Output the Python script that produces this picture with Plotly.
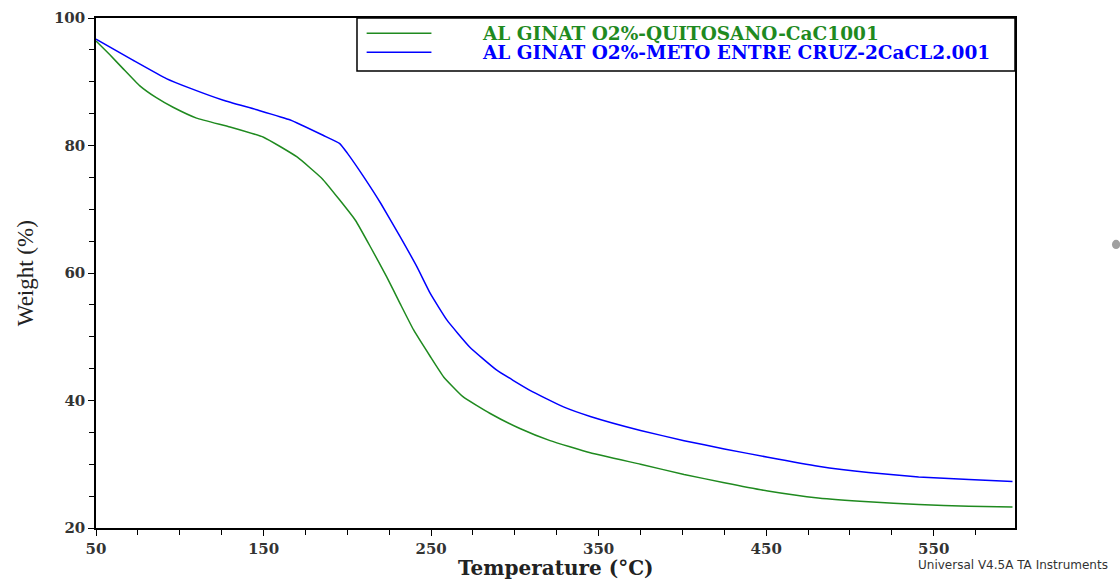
import plotly.graph_objects as go

# TGA curves: temperature (°C) vs residual weight (%)
temp_quitosano = [50, 58, 66, 76, 86, 96, 110, 130, 150, 170, 185, 195, 205, 214, 223.5, 231.5, 239.5,
                  249.5, 257.5, 269, 285, 303, 321, 345, 375, 401, 425, 451, 481, 511, 541, 571, 597]
weight_quitosano = [96.4, 94.3, 92.1, 89.4, 87.5, 86.0, 84.3, 82.9, 81.3, 78.2, 74.8, 71.6, 68.2, 64.0, 59.4,
                    55.2, 51.1, 46.9, 43.7, 40.6, 38.0, 35.6, 33.7, 31.8, 30.0, 28.4, 27.1, 25.8, 24.7,
                    24.1, 23.7, 23.4, 23.3]

temp_entrecruz = [50, 72, 92, 106, 126, 146, 166, 185.5, 195.5, 200, 210, 220, 231.5, 241.5,
                  249.5, 259.5, 273, 289, 309, 329, 345, 375, 401, 425, 451, 481, 511, 541, 571, 597]
weight_entrecruz = [96.7, 93.4, 90.5, 89.0, 87.1, 85.6, 84.0, 81.6, 80.3, 78.8, 75.0, 70.9, 65.7, 61.0,
                    56.8, 52.6, 48.4, 44.8, 41.6, 39.0, 37.5, 35.3, 33.7, 32.4, 31.1, 29.7, 28.7, 28.0,
                    27.6, 27.3]

series_names = ["AL GINAT O2%-QUITOSANO-CaC1001", "AL GINAT O2%-METO ENTRE CRUZ-2CaCL2.001"]
series_colors = ["#1f8a1f", "#0000ff"]
x_ticks = [50, 150, 250, 350, 450, 550]
y_ticks = [20, 40, 60, 80, 100]

tick_font = dict(family="DejaVu Serif", size=15, color="#333333")

fig = go.Figure()
for t, w, name, color in zip([temp_quitosano, temp_entrecruz], [weight_quitosano, weight_entrecruz],
                             series_names, series_colors):
    fig.add_trace(go.Scatter(x=t, y=w, mode="lines", name=name,
                             line=dict(color=color, width=1.5, shape="spline", smoothing=0.4),
                             showlegend=False))

fig.update_layout(
    width=1120, height=579,
    margin=dict(l=96, r=105, t=18, b=51),
    paper_bgcolor="white", plot_bgcolor="white",
    xaxis=dict(range=[50, 598.5], tickvals=x_ticks, ticktext=[f"<b>{v}</b>" for v in x_ticks],
               ticks="outside", ticklen=6, tickwidth=1.2, tickcolor="black", automargin=False,
               showline=True, linecolor="black", linewidth=1.5, mirror=True,
               showgrid=False, zeroline=False, tickfont=tick_font,
               minor=dict(tick0=50, dtick=25, ticks="outside", ticklen=5, tickcolor="black", showgrid=False)),
    yaxis=dict(range=[20, 100], tickvals=y_ticks, ticktext=[f"<b>{v}</b>" for v in y_ticks],
               ticks="outside", ticklen=6, tickwidth=1.2, tickcolor="black", automargin=False,
               showline=True, linecolor="black", linewidth=1.5, mirror=True,
               showgrid=False, zeroline=False, tickfont=tick_font,
               minor=dict(tick0=20, dtick=5, ticks="outside", ticklen=5, tickcolor="black", showgrid=False)),
)

# Axis titles and instrument note
fig.add_annotation(x=0.5, y=-0.078, xref="paper", yref="paper", xanchor="center", yanchor="middle",
                   showarrow=False, text="<b>Temperature (°C)</b>",
                   font=dict(family="DejaVu Serif", size=20, color="#222222"))
fig.add_annotation(x=-0.077, y=0.5, xref="paper", yref="paper", xanchor="center", yanchor="middle",
                   textangle=-90, showarrow=False, text="Weight (%)",
                   font=dict(family="Liberation Serif", size=23, color="#222222"))
fig.add_annotation(x=1.1034, y=-0.0735, xref="paper", yref="paper", xanchor="right", yanchor="middle",
                   showarrow=False, text="Universal V4.5A TA Instruments",
                   font=dict(family="DejaVu Sans", size=12, color="#333333"))

# Small grey mark at the right margin
fig.add_shape(type="circle", xref="paper", yref="paper", x0=1.1055, x1=1.1145, y0=0.547, y1=0.565,
              line=dict(width=0), fillcolor="#a0a0a0")

# Legend box drawn in paper coordinates
fig.add_shape(type="rect", xref="paper", yref="paper", x0=0.284, x1=1.0, y0=0.896, y1=1.0,
              line=dict(color="black", width=1.5), fillcolor="white", layer="above")
for i, (name, color) in enumerate(zip(series_names, series_colors)):
    yy = 0.97 - i * 0.037
    fig.add_shape(type="line", xref="paper", yref="paper", x0=0.2945, x1=0.365, y0=yy, y1=yy,
                  line=dict(color=color, width=1.5), layer="above")
    fig.add_annotation(x=0.4175, y=yy, xref="paper", yref="paper", xanchor="left", yanchor="middle",
                       showarrow=False, text=f"<b>{name}</b>",
                       font=dict(family="DejaVu Serif", size=18.5, color=color))

fig.write_html("out.html")
